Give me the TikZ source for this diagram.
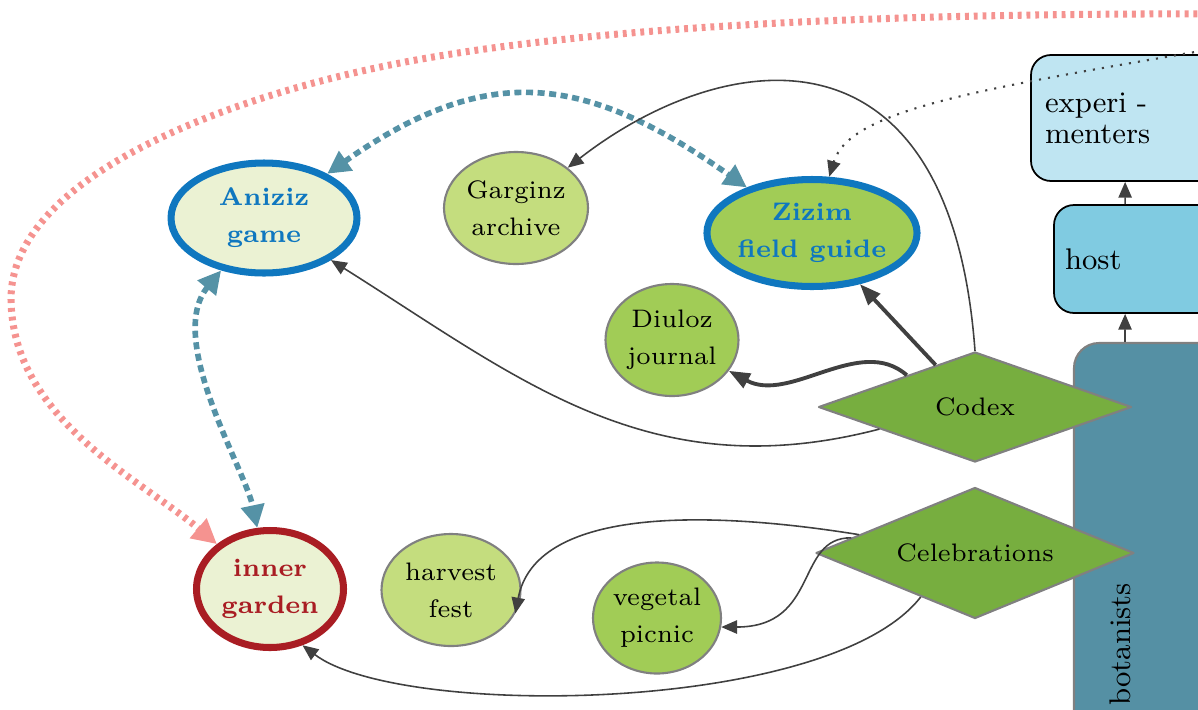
\documentclass[tikz,border=0pt]{standalone}
\usetikzlibrary{shapes.geometric,arrows.meta}
\definecolor{cream}{HTML}{EBF2D3}
\definecolor{topicblue}{HTML}{0F77BF}
\definecolor{gardenred}{HTML}{A91D23}
\definecolor{palegreen}{HTML}{C4DD7E}
\definecolor{leafgreen}{HTML}{A1CC56}
\definecolor{hubgreen}{HTML}{77AE3F}
\definecolor{rosepink}{HTML}{F59390}
\definecolor{tealline}{HTML}{5592A6}
\definecolor{skyblue}{HTML}{BFE5F2}
\definecolor{hostblue}{HTML}{80CBE1}
\definecolor{botteal}{HTML}{5590A4}
\definecolor{edgegray}{HTML}{404040}
\begin{document}
\begin{tikzpicture}[font=\fontsize{7.2}{10.5}\selectfont, line join=round,
		item/.style={ellipse,draw=gray,line width=0.6pt,inner sep=0pt,align=center},
		topic/.style={item,line width=2pt,font=\fontsize{7.2}{10.5}\selectfont\bfseries},
		hub/.style={diamond,draw=gray,line width=0.6pt,fill=hubgreen,inner sep=0pt,aspect=2.8},
		group/.style={rectangle,rounded corners=0.2cm,align=left,font=\fontsize{8.5}{8.8}\selectfont},
		link/.style={edgegray,line width=0.45pt,-{Triangle[length=4.5pt,width=3.8pt]}},
		heavy/.style={edgegray,line width=1.1pt,-{Triangle[length=6pt,width=4.5pt]}},
		dotlink/.style={edgegray,line width=0.6pt,dotted,-{Triangle[length=4.5pt,width=3.8pt]}},
		tealdash/.style={tealline,line width=1.6pt,dash pattern=on 2pt off 1.3pt,{Triangle[length=6.5pt,width=6.5pt]}-{Triangle[length=6.5pt,width=6.5pt]}},
		pinkdash/.style={rosepink,line width=2pt,dash pattern=on 1.1pt off 1.4pt,-{Triangle[length=7pt,width=7pt]}}]
	\useasboundingbox (0,0) rectangle (11.98,7.09);
	\clip (0,0) rectangle (11.98,7.09);
	\node[group,fill=skyblue,draw=black,line width=0.5pt,text width=3.41cm,inner xsep=0.14cm,minimum height=1.26cm] (exper) at (12.155,5.91) {experi -\\menters};
	\node[group,fill=hostblue,draw=black,line width=0.5pt,text width=3.28cm,inner xsep=0.11cm,minimum height=1.08cm] (host) at (12.29,4.50) {host};
	\node[group,fill=botteal,draw=gray,line width=0.6pt,rounded corners=0.25cm,minimum width=3.26cm,minimum height=5.66cm] (bot) at (12.37,0.83) {};
	\node[rotate=90,anchor=west,inner sep=0pt,font=\fontsize{8.5}{8.8}\selectfont] (botlabel) at (11.2,0.03) {botanists};
	\node[topic,draw=topicblue,fill=cream,text=topicblue,minimum width=1.86cm,minimum height=1.10cm] (aniziz) at (2.64,4.91) {Aniziz\\game};
	\node[item,fill=palegreen,minimum width=1.44cm,minimum height=1.12cm] (garginz) at (5.16,5.01) {Garginz\\archive};
	\node[topic,draw=topicblue,fill=leafgreen,text=topicblue,minimum width=2.05cm,minimum height=1.07cm] (zizim) at (8.12,4.76) {Zizim\\field guide};
	\node[item,fill=leafgreen,minimum width=1.33cm,minimum height=1.12cm] (diuloz) at (6.72,3.69) {Diuloz\\journal};
	\node[hub,minimum width=3.13cm,minimum height=1.10cm] (codex) at (9.75,3.02) {Codex};
	\node[hub,minimum width=3.18cm,minimum height=1.31cm] (celebr) at (9.75,1.56) {Celebrations};
	\node[topic,draw=gardenred,fill=cream,text=gardenred,minimum width=1.47cm,minimum height=1.17cm] (inner) at (2.70,1.20) {inner\\garden};
	\node[item,fill=palegreen,minimum width=1.39cm,minimum height=1.12cm] (harvest) at (4.51,1.19) {harvest\\fest};
	\node[item,fill=leafgreen,minimum width=1.28cm,minimum height=1.11cm] (vegetal) at (6.57,0.91) {vegetal\\picnic};
	\coordinate (offr) at (12.5,6.95);
	\coordinate (offe) at (12.3,6.63);
	\draw[link] ([xshift=0.72cm]host.north west) -- ([xshift=0.95cm]exper.south west);
	\draw[link] ([xshift=0.52cm]bot.north west) -- ([xshift=0.72cm]host.south west);
	\draw[pinkdash] (offr) .. controls (8.0,6.97) and (5.5,6.75) .. (4.0,6.46) .. controls (2.2,6.11) and (0.11,5.3) .. (0.11,4.1) .. controls (0.12,2.9) and (1.4,2.3) .. (inner);
	\draw[tealdash] (aniziz) to[out=35,in=145,looseness=1.2] (zizim);
	\draw[tealdash] (aniziz) .. controls (1.65,3.7) and (2.45,2.4) .. (inner);
	\draw[link] (codex.193) .. controls (6.5,2.2) and (5.2,3.3) .. (aniziz);
	\draw[link] (codex.north) .. controls (9.5,7.0) and (7.2,6.6) .. (garginz);
	\draw[heavy] (codex) -- (zizim);
	\draw[heavy] (codex.155) .. controls (8.6,3.75) and (7.9,3.05) .. (diuloz);
	\draw[dotlink] (offe) .. controls (9.8,6.2) and (8.5,6.0) .. (zizim);
	\draw[link] (celebr.171) .. controls (7.0,2.0) and (5.35,2.0) .. (harvest.-20);
	\draw[link] (celebr.173) .. controls (7.95,1.72) and (8.2,0.82) .. (vegetal.-8);
	\draw[link] (celebr.219) .. controls (8.3,-0.05) and (4.0,-0.1) .. (inner.-60);
\end{tikzpicture}
\end{document}
